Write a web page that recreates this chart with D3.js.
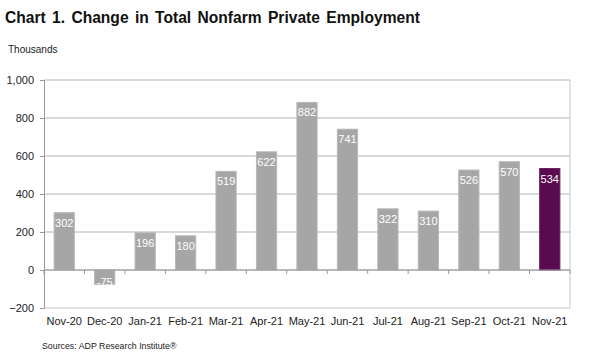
<!DOCTYPE html>
<html>
<head>
<meta charset="utf-8">
<script src="https://cdn.jsdelivr.net/npm/d3@7"></script>
<style>
  body { margin: 0; background: #fff; font-family: "Liberation Sans", Arial, sans-serif; }
</style>
</head>
<body>
<svg id="chart" width="590" height="354"></svg>
<script>
const months = ["Nov-20", "Dec-20", "Jan-21", "Feb-21", "Mar-21", "Apr-21", "May-21",
  "Jun-21", "Jul-21", "Aug-21", "Sep-21", "Oct-21", "Nov-21"]
const change = [302, -75, 196, 180, 519, 622, 882, 741, 322, 310, 526, 570, 534]
const yTicks = [-200, 0, 200, 400, 600, 800, 1000]

const margin = { top: 80, right: 20, bottom: 46, left: 44 }
const width = 590 - margin.left - margin.right
const height = 354 - margin.top - margin.bottom

const svg = d3.select("#chart")

svg.append("text")
  .attr("x", 5).attr("y", 23)
  .attr("font-size", "15.6px").attr("font-weight", "bold")
  .attr("word-spacing", "2px")
  .attr("fill", "#111")
  .text("Chart 1. Change in Total Nonfarm Private Employment")

svg.append("text")
  .attr("x", 8).attr("y", 53)
  .attr("font-size", "10px").attr("fill", "#222")
  .text("Thousands")

svg.append("text")
  .attr("x", 42).attr("y", 349)
  .attr("font-size", "8.8px").attr("fill", "#222")
  .text("Sources: ADP Research Institute®")

const g = svg.append("g").attr("transform", `translate(${margin.left},${margin.top})`)

const x = d3.scaleBand().domain(months).range([0, width]).paddingInner(0.5).paddingOuter(0.25)
const y = d3.scaleLinear().domain([-200, 1000]).range([height, 0])

// gridlines
g.append("g").selectAll("line")
  .data(yTicks.filter(d => d !== -200))
  .enter().append("line")
    .attr("x1", 0).attr("x2", width)
    .attr("y1", d => y(d)).attr("y2", d => y(d))
    .attr("stroke", "#b3b3b3").attr("stroke-width", 1)

// frame: bottom and right
g.append("line").attr("x1", 0).attr("x2", width).attr("y1", height).attr("y2", height)
  .attr("stroke", "#c8c8c8")
g.append("line").attr("x1", width).attr("x2", width).attr("y1", 0).attr("y2", height)
  .attr("stroke", "#c8c8c8")

// bars
g.append("g").selectAll("rect")
  .data(change)
  .enter().append("rect")
    .attr("x", (d, i) => x(months[i]))
    .attr("width", x.bandwidth())
    .attr("y", d => y(Math.max(0, d)))
    .attr("height", d => Math.abs(y(d) - y(0)))
    .attr("fill", (d, i) => i === change.length - 1 ? "#5a0a4f" : "#a6a6a6")
    .attr("stroke", (d, i) => i === change.length - 1 ? "#6e1f63" : "#b8b8b8")
    .attr("stroke-width", 1)

// value labels
g.append("g").selectAll("text")
  .data(change)
  .enter().append("text")
    .attr("x", (d, i) => x(months[i]) + x.bandwidth() / 2)
    .attr("y", d => d >= 0 ? y(d) + 14 : y(d) + 2)
    .attr("text-anchor", "middle")
    .attr("font-size", "11px")
    .attr("fill", "#fff")
    .text(d => d)

// y axis
const yAxis = g.append("g")
  .call(d3.axisLeft(y).tickValues(yTicks).tickSize(4).tickPadding(6).tickFormat(d3.format(",")))
yAxis.select(".domain").attr("stroke", "#999")
yAxis.selectAll(".tick line").attr("stroke", "#999")
yAxis.selectAll("text").attr("font-size", "11px").attr("fill", "#222")
  .attr("font-family", "Liberation Sans, Arial, sans-serif")

// zero line with category ticks
const zero = g.append("g").attr("transform", `translate(0,${y(0)})`)
zero.append("line").attr("x1", 0).attr("x2", width).attr("stroke", "#999")
zero.selectAll(".ct")
  .data(d3.range(months.length + 1))
  .enter().append("line")
    .attr("x1", i => i * x.step()).attr("x2", i => i * x.step())
    .attr("y1", 0).attr("y2", 4)
    .attr("stroke", "#999")

// x labels
g.append("g").selectAll("text")
  .data(months)
  .enter().append("text")
    .attr("x", d => x(d) + x.bandwidth() / 2)
    .attr("y", height + 17)
    .attr("text-anchor", "middle")
    .attr("font-size", "11px")
    .attr("fill", "#222")
    .text(d => d)
</script>
</body>
</html>
